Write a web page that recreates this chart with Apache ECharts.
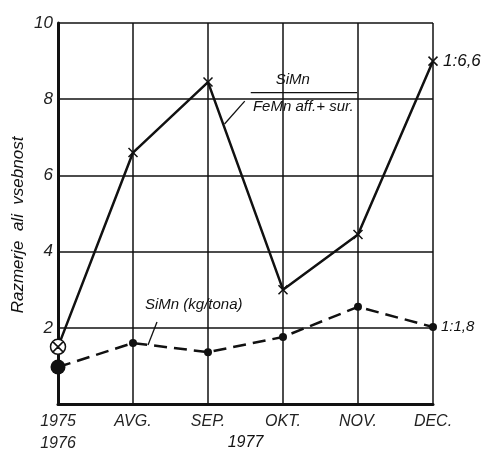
<!DOCTYPE html>
<html>
<head>
<meta charset="utf-8">
<script src="https://cdn.jsdelivr.net/npm/echarts@6/dist/echarts.min.js"></script>
<style>
html,body{margin:0;padding:0;background:#fff;}
#chart{width:488px;height:451px;}
</style>
</head>
<body>
<div id="chart"></div>
<script>
// ---- data ----
const categories = ['1975\n1976', 'AVG.', 'SEP.', 'OKT.', 'NOV.', 'DEC.'];
const ratioValues = [1.5, 6.6, 8.45, 3.0, 4.45, 9.0];      // SiMn / FeMn aff.+sur.
const contentValues = [0.97, 1.6, 1.36, 1.76, 2.55, 2.02]; // SiMn (kg/tona)
const yTicks = [0, 2, 4, 6, 8, 10];
const ratioEndLabel = '1:6,6';
const contentEndLabel = '1:1,8';
const yearLabel = '1977';
const yName = 'Razmerje  ali  vsebnost';
const ratioTop = 'SiMn';
const ratioBottom = 'FeMn aff.+ sur.';
const contentName = 'SiMn (kg/tona)';

// ---- styles ----
const INK = '#111';
const FONT = "'Liberation Sans', 'DejaVu Sans', sans-serif";
const crossPath = 'path://M-5,-5L5,5M5,-5L-5,5';
const circleCrossPath = 'path://M0,-10A10,10 0 1,1 0,10A10,10 0 1,1 0,-10ZM-7,-7L7,7M7,-7L-7,7';

const chart = echarts.init(document.getElementById('chart'), null, {renderer: 'canvas'});

const ratioData = ratioValues.map((v, i) => {
  const d = {value: v};
  if (i === 0) {
    d.symbol = circleCrossPath; d.symbolSize = 15;
    d.itemStyle = {color: '#fff', borderColor: INK, borderWidth: 1.5};
  }
  if (i === ratioValues.length - 1) {
    d.label = {show: true, formatter: ratioEndLabel, position: 'right', distance: 3,
      fontSize: 17, fontStyle: 'italic', fontFamily: FONT, color: INK};
  }
  return d;
});
const contentData = contentValues.map((v, i) => {
  const d = {value: v};
  if (i === 0) d.symbolSize = 15;
  if (i === contentValues.length - 1) {
    d.label = {show: true, formatter: contentEndLabel, position: 'right', distance: 4,
      fontSize: 15, fontStyle: 'italic', fontFamily: FONT, color: INK};
  }
  return d;
});

chart.setOption({
  animation: false,
  backgroundColor: '#fff',
  grid: {left: 58, right: 55, top: 23, bottom: 47, containLabel: false, outerBoundsMode: 'none'},
  xAxis: {
    type: 'category', data: categories, boundaryGap: false,
    axisLine: {lineStyle: {color: INK, width: 3}},
    axisTick: {show: false},
    splitLine: {show: true, lineStyle: {color: INK, width: 1.5}},
    axisLabel: {color: '#222', fontSize: 16, fontStyle: 'italic', fontFamily: FONT,
      margin: 7, lineHeight: 22, interval: 0}
  },
  yAxis: {
    type: 'value', min: 0, max: 10, interval: 2,
    axisLine: {show: true, lineStyle: {color: INK, width: 3}},
    axisTick: {show: false},
    splitLine: {show: true, lineStyle: {color: INK, width: 1.5}},
    axisLabel: {color: '#222', fontSize: 17, fontStyle: 'italic', fontFamily: FONT, margin: 5,
      formatter: v => (yTicks.indexOf(v) > 0 ? String(v) : '')}
  },
  series: [
    {
      name: 'ratio', type: 'line', data: ratioData,
      symbol: crossPath, symbolSize: 9,
      itemStyle: {color: 'none', borderColor: INK, borderWidth: 1.5},
      lineStyle: {color: INK, width: 2.5}, z: 3
    },
    {
      name: 'content', type: 'line', data: contentData,
      symbol: 'circle', symbolSize: 8,
      itemStyle: {color: INK},
      lineStyle: {color: INK, width: 2.5, type: [13, 7]}, z: 4
    }
  ]
});

// ---- annotations anchored in data coordinates (fractional category index) ----
const P = (xi, y) => {
  const p0 = chart.convertToPixel({gridIndex: 0}, [0, y]);
  const p1 = chart.convertToPixel({gridIndex: 0}, [1, y]);
  return [p0[0] + (p1[0] - p0[0]) * xi, p0[1]];
};
const anchors = {
  ratioLeaderA: [2.22, 7.35], ratioLeaderB: [2.49, 7.95],
  fracLineA: [2.57, 8.17], fracLineB: [3.99, 8.17],
  fracTop: [3.13, 8.5], fracBottom: [3.27, 7.8],
  contLeaderA: [1.32, 2.15], contLeaderB: [1.2, 1.55],
  contText: [1.16, 2.6],
  year: [2.5, -1.0],
  yName: [-0.53, 4.7]
};
const a = {};
for (const k in anchors) a[k] = P(anchors[k][0], anchors[k][1]);
const txt = (pos, text, size, align, extra) => Object.assign({
  type: 'text', x: pos[0], y: pos[1],
  style: {text: text, fill: INK, font: 'italic ' + size + 'px ' + FONT, textAlign: align, textVerticalAlign: 'middle'}
}, extra || {});
const seg = (p, q, w) => ({type: 'line', shape: {x1: p[0], y1: p[1], x2: q[0], y2: q[1]},
  style: {stroke: INK, lineWidth: w}});

chart.setOption({
  graphic: [
    seg(a.ratioLeaderA, a.ratioLeaderB, 1.3),
    seg(a.fracLineA, a.fracLineB, 1.3),
    txt(a.fracTop, ratioTop, 15, 'center'),
    txt(a.fracBottom, ratioBottom, 15, 'center'),
    seg(a.contLeaderA, a.contLeaderB, 1.3),
    txt(a.contText, contentName, 15, 'left'),
    txt(a.year, yearLabel, 16, 'center'),
    txt(a.yName, yName, 17, 'center', {rotation: Math.PI / 2})
  ]
});
</script>
</body>
</html>
